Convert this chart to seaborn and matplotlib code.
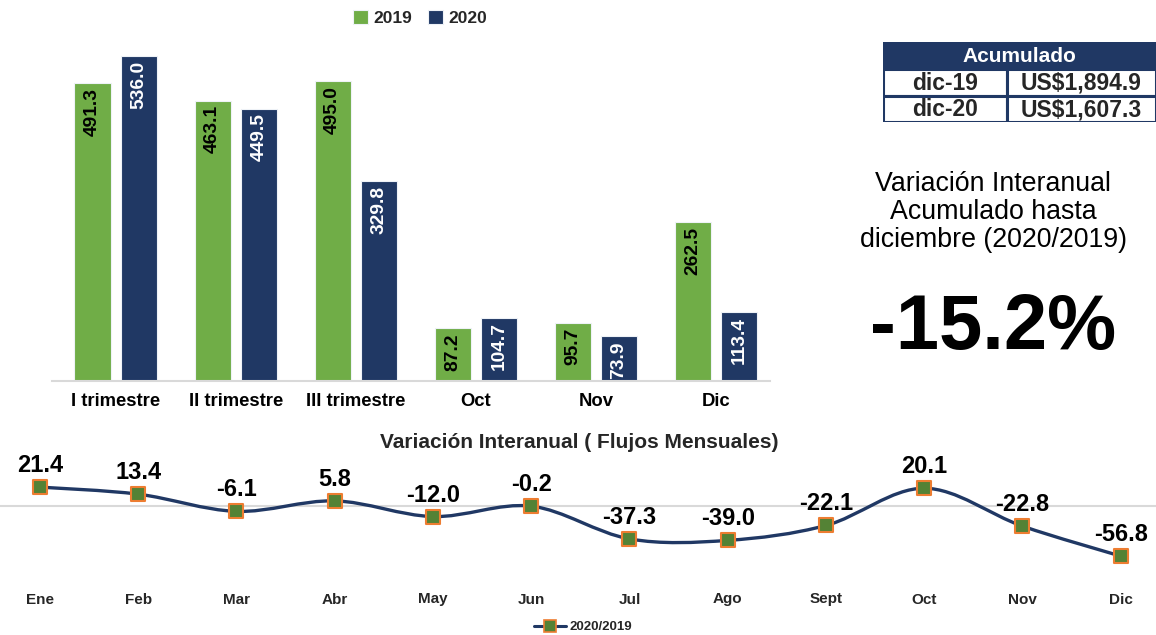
import numpy as np
import pandas as pd
import matplotlib
matplotlib.use("Agg")
import matplotlib.pyplot as plt
import seaborn as sns
from matplotlib.path import Path
from matplotlib.patches import PathPatch, Rectangle
from matplotlib.lines import Line2D
from matplotlib import font_manager as fm

# ---------------- data ----------------
categories = ["I trimestre", "II trimestre", "III trimestre", "Oct", "Nov", "Dic"]
years = ["2019", "2020"]
values_2019 = [491.3, 463.1, 495.0, 87.2, 95.7, 262.5]
values_2020 = [536.0, 449.5, 329.8, 104.7, 73.9, 113.4]

months = ["Ene", "Feb", "Mar", "Abr", "May", "Jun", "Jul", "Ago", "Sept", "Oct", "Nov", "Dic"]
variation = [21.4, 13.4, -6.1, 5.8, -12.0, -0.2, -37.3, -39.0, -22.1, 20.1, -22.8, -56.8]
variation_label = "2020/2019"

acum_title = "Acumulado"
acum_labels = ["dic-19", "dic-20"]
acum_values = ["US$1,894.9", "US$1,607.3"]
total_var_text = "Variación Interanual\nAcumulado hasta\ndiciembre (2020/2019)"
total_var = "-15.2%"

# ---------------- style ----------------
GREEN = "#70AD47"
NAVY = "#203864"
MK_GREEN = "#548235"
MK_EDGE = "#ED7D31"
GRID = "#D9D9D9"

sns.set_theme(style="white")
names = {f.name for f in fm.fontManager.ttflist}
base = "Liberation Sans" if "Liberation Sans" in names else "DejaVu Sans"
plt.rcParams["font.family"] = [base, "DejaVu Sans"]

fig = plt.figure(figsize=(11.56, 6.35), dpi=100)
W, H = 1156, 635

def fx(px):
    return px / W

def fy(py):
    return 1 - py / H

# ---------------- bar chart ----------------
ax1 = fig.add_axes([fx(52), fy(381), fx(770 - 52), (381 - 40) / H])
df = pd.DataFrame({
    "cat": categories * 2,
    "year": [years[0]] * len(categories) + [years[1]] * len(categories),
    "val": values_2019 + values_2020,
})
sns.barplot(data=df, x="cat", y="val", hue="year", palette=[GREEN, NAVY],
            width=0.77, gap=0.22, saturation=1, ax=ax1,
            edgecolor="#EEF2F7", linewidth=0.8)
ax1.set_xlim(-0.53, 5.45)
ax1.set_ylim(0, 563)
ax1.set_xlabel("")
ax1.set_ylabel("")
ax1.set_yticks([])
for s in ["top", "right", "left"]:
    ax1.spines[s].set_visible(False)
ax1.spines["bottom"].set_color(GRID)
ax1.spines["bottom"].set_linewidth(1.5)
ax1.tick_params(axis="x", length=0, pad=9)
for lab in ax1.get_xticklabels():
    lab.set_fontweight("bold")
    lab.set_fontsize(13.3)
    lab.set_color("black")

txtcolors = ["black", "white"]
for cont, col, vals in zip(ax1.containers, txtcolors, [values_2019, values_2020]):
    for bar, v in zip(cont, vals):
        ax1.annotate(f"{v:.1f}", (bar.get_x() + bar.get_width() / 2, bar.get_height()),
                     xytext=(0, -3.5), textcoords="offset points", rotation=90,
                     ha="center", va="top", color=col,
                     fontsize=13.8, fontweight="bold")

handles, _ = ax1.get_legend_handles_labels()
if ax1.get_legend() is not None:
    ax1.get_legend().remove()
fig.legend(handles=handles, labels=years, loc="center", bbox_to_anchor=(fx(420), fy(18)),
           ncol=2, frameon=False, handlelength=0.9, handleheight=0.9, handletextpad=0.3,
           columnspacing=0.9, prop={"weight": "bold", "size": 12.5})

# ---------------- line chart ----------------
ax2 = fig.add_axes([0, fy(580), 1, 125 / H])
xs = np.arange(len(months))
ys = np.array(variation, dtype=float)

# smooth (Excel-like) curve through the points using cubic Bezier segments
pts = np.column_stack([xs, ys])
verts = [tuple(pts[0])]
codes = [Path.MOVETO]
n = len(pts)
for i in range(n - 1):
    p0 = pts[i - 1] if i > 0 else pts[i]
    p1 = pts[i]
    p2 = pts[i + 1]
    p3 = pts[i + 2] if i + 2 < n else pts[i + 1]
    c1 = p1 + (p2 - p0) / 6.0
    c2 = p2 - (p3 - p1) / 6.0
    verts += [tuple(c1), tuple(c2), tuple(p2)]
    codes += [Path.CURVE4] * 3
ax2.add_patch(PathPatch(Path(verts, codes), facecolor="none", edgecolor=NAVY, lw=2.4, zorder=2))

ax2.axhline(0, color=GRID, lw=1.5, zorder=1)
sns.scatterplot(x=months, y=variation, marker="s", s=110, color=MK_GREEN,
                edgecolor=MK_EDGE, linewidth=1.5, zorder=3, ax=ax2, legend=False)
for xi, v in zip(xs, variation):
    ax2.annotate(f"{v:.1f}", (xi, v), xytext=(0, 15.5), textcoords="offset points",
                 ha="center", va="center", fontsize=17, fontweight="bold", color="black")

ax2.set_xlim(-0.407, 11.36)
ax2.set_ylim(-83.9, 57.8)
ax2.set_yticks([])
ax2.set_xticks(xs)
ax2.set_xticklabels(months)
ax2.set_xlabel("")
ax2.set_ylabel("")
for s in ax2.spines.values():
    s.set_visible(False)
ax2.tick_params(axis="x", length=0, pad=9)
for lab in ax2.get_xticklabels():
    lab.set_fontweight("bold")
    lab.set_fontsize(11)
ax2.patch.set_alpha(0)

fig.text(fx(579), fy(443), "Variación Interanual ( Flujos Mensuales)", ha="center", va="center",
         fontsize=15, fontweight="bold")

line_handle = Line2D([], [], color=NAVY, lw=2.2, marker="s", markersize=8,
                     markerfacecolor=MK_GREEN, markeredgecolor=MK_EDGE, markeredgewidth=1.2)
fig.legend(handles=[line_handle], labels=[variation_label], loc="center",
           bbox_to_anchor=(fx(583), fy(627)), frameon=False, handlelength=2.4,
           handletextpad=0.3, prop={"weight": "bold", "size": 9.5})

# ---------------- accumulated table ----------------
tax = fig.add_axes([fx(883), fy(122), fx(1156 - 883), 80 / H])
tax.set_xlim(0, 273)
tax.set_ylim(80, 0)
tax.axis("off")
tax.add_patch(Rectangle((0, 0), 273, 27, facecolor=NAVY, edgecolor=NAVY, lw=2))
tax.text(136.5, 14, acum_title, ha="center", va="center", color="white",
         fontsize=15, fontweight="bold")
row_top = [27, 53.5]
for r, (lab, val) in enumerate(zip(acum_labels, acum_values)):
    y0 = row_top[r]
    tax.add_patch(Rectangle((0, y0), 124, 26.5, facecolor="white", edgecolor=NAVY, lw=2.2))
    tax.add_patch(Rectangle((124, y0), 149, 26.5, facecolor="white", edgecolor=NAVY, lw=2.2))
    tax.text(62, y0 + 14, lab, ha="center", va="center", fontsize=16.5, fontweight="bold")
    tax.text(198.5, y0 + 14, val, ha="center", va="center", fontsize=16.5, fontweight="bold")

fig.text(fx(993), fy(212), total_var_text, ha="center", va="center", fontsize=19.3,
         linespacing=1.12, color="black")
fig.text(fx(993), fy(328), total_var, ha="center", va="center", fontsize=56,
         fontweight="bold", color="black")

fig.savefig("out.png", dpi=100)
